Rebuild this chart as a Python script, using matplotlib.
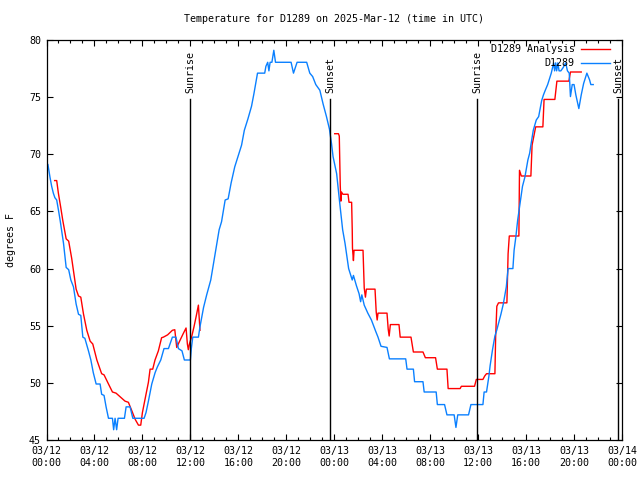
import matplotlib
matplotlib.use("Agg")
import matplotlib.pyplot as plt
import numpy as np

# hours since 2025-03-12 00:00 UTC, temperature in degrees F
obs_hours = [0.12, 0.29, 0.43, 0.57, 0.7, 0.85, 1.0, 1.14, 1.42, 1.64, 1.85, 2.03, 2.25, 2.47,
             2.67, 2.86, 3.03, 3.2, 3.5, 3.7, 3.9, 4.14, 4.47, 4.6, 4.8, 4.97, 5.17, 5.5, 5.6,
             5.72, 5.85, 5.97, 6.5, 6.64, 6.97, 7.2, 8.14, 8.3, 8.5, 8.78, 9.06, 9.25, 9.53,
             9.8, 10.17, 10.5, 10.8, 11.0, 11.3, 11.5, 12.0, 12.08, 12.2, 12.67, 12.8, 13.1,
             13.36, 13.7, 14.05, 14.4, 14.6, 14.9, 15.15, 15.4, 15.7, 16.0, 16.27, 16.5, 16.8,
             17.1, 17.3, 17.6, 18.2, 18.3, 18.45, 18.55, 18.65, 18.8, 18.96, 19.1, 20.4, 20.6,
             20.9, 21.7, 21.96, 22.2, 22.46, 22.8, 23.07, 23.35, 23.6, 23.77, 23.9, 24.2, 24.46,
             24.7, 24.9, 25.2, 25.5, 25.6, 25.85, 26.07, 26.2, 26.3, 26.5, 26.8, 27.1, 27.46,
             27.65, 27.9, 28.4, 28.6, 29.96, 30.07, 30.6, 30.7, 31.4, 31.5, 32.5, 32.6, 33.2,
             33.4, 34.0, 34.15, 34.3, 35.2, 35.4, 36.4, 36.5, 36.7, 36.9, 37.0, 37.2, 37.4,
             37.55, 37.7, 37.9, 38.1, 38.35, 38.5, 38.9, 39.0, 39.15, 39.3, 39.5, 39.7, 39.9,
             40.15, 40.3, 40.4, 40.6, 40.85, 41.05, 41.3, 41.45, 41.6, 41.8, 42.1, 42.3, 42.38,
             42.47, 42.55, 42.65, 42.75, 42.9, 43.1, 43.3, 43.45, 43.6, 43.7, 43.85, 44.0,
             44.15, 44.4, 44.6, 44.8, 45.07, 45.3, 45.4, 45.6]
obs_temps = [69.1, 68.0, 67.2, 66.6, 66.2, 66.0, 65.1, 64.2, 62.2, 60.1, 59.9, 59.0, 58.4, 56.9,
             56.0, 55.9, 54.0, 53.9, 52.8, 52.0, 50.9, 49.9, 49.9, 49.0, 48.9, 47.9, 46.9, 46.9,
             45.9, 46.9, 45.9, 46.9, 46.9, 47.9, 47.9, 46.9, 46.9, 47.4, 48.4, 49.9, 50.9, 51.4,
             52.0, 53.0, 53.0, 54.0, 54.0, 53.0, 52.8, 52.0, 52.0, 53.0, 54.0, 54.0, 54.9, 56.6,
             57.7, 59.0, 61.2, 63.4, 64.1, 66.0, 66.1, 67.5, 68.9, 69.9, 70.8, 72.1, 73.1, 74.2,
             75.3, 77.1, 77.1, 77.7, 78.05, 77.3, 78.05, 78.05, 79.1, 78.05, 78.05, 77.1, 78.05,
             78.05, 77.1, 76.8, 76.1, 75.6, 74.4, 73.3, 72.2, 70.95, 69.8, 68.3, 65.7, 63.4,
             62.2, 60.0, 59.0, 59.4, 58.5, 57.8, 57.1, 57.7, 56.8, 56.1, 55.5, 54.5, 54.0, 53.2,
             53.1, 52.1, 52.1, 51.2, 51.2, 50.1, 50.1, 49.2, 49.2, 48.1, 48.1, 47.2, 47.2, 46.1,
             47.2, 47.2, 48.1, 48.1, 49.2, 49.2, 50.6, 51.5, 52.9, 54.1, 54.6, 55.2, 56.0, 56.9,
             58.4, 60.0, 60.0, 61.6, 62.8, 64.25, 65.7, 67.2, 68.0, 69.5, 70.1, 70.8, 72.1, 73.0,
             73.3, 74.7, 75.2, 75.6, 76.1, 77.1, 78.0, 77.3, 78.0, 77.3, 78.0, 77.3, 77.3, 77.6,
             78.0, 77.3, 77.1, 75.05, 76.1, 76.1, 75.2, 74.0, 75.2, 76.2, 77.1, 76.5, 76.1, 76.1]

ana_hours = [0.68, 0.85, 0.99, 1.18, 1.36, 1.64, 1.85, 2.1, 2.47, 2.67, 2.86, 3.08, 3.36, 3.64,
             3.86, 4.2, 4.6, 4.8, 5.17, 5.5, 5.8, 6.55, 6.83, 7.1, 7.4, 7.67, 7.86, 8.0, 8.3,
             8.5, 8.64, 8.86, 9.05, 9.33, 9.6, 9.75, 10.1, 10.5, 10.7, 10.86, 11.08, 11.4,
             11.64, 11.75, 11.83, 11.92, 12.1, 12.3, 12.5, 12.67, 12.8, 18.0,
             24.04, 24.35, 24.42, 24.5, 24.55, 24.6, 24.72, 25.15, 25.23, 25.45, 25.5, 25.52,
             25.6, 25.65, 26.4, 26.5, 26.6, 26.68, 27.4, 27.5, 27.58, 27.65, 28.4, 28.5, 28.58,
             28.68, 29.4, 29.5, 30.4, 30.6, 31.4, 31.6, 32.45, 32.6, 33.4, 33.5, 34.5, 34.6,
             35.7, 35.85, 36.4, 36.55, 36.7, 37.4, 37.46, 37.56, 37.7, 38.4, 38.5, 38.6, 39.4,
             39.45, 39.6, 40.4, 40.5, 40.8, 41.4, 41.5, 42.4, 42.57, 43.57, 43.7, 44.6]
ana_temps = [67.7, 67.7, 66.6, 65.4, 64.2, 62.6, 62.4, 60.9, 58.2, 57.6, 57.5, 56.05, 54.6, 53.65,
             53.4, 52.0, 50.8, 50.7, 49.9, 49.2, 49.1, 48.4, 48.3, 47.6, 46.8, 46.3, 46.3, 47.4,
             49.0, 50.05, 51.2, 51.2, 52.0, 52.8, 53.95, 54.0, 54.2, 54.6, 54.65, 53.1, 53.6,
             54.3, 54.8, 53.4, 52.9, 53.4, 54.0, 54.9, 55.9, 56.8, 54.6, np.nan,
             71.8, 71.8, 71.6, 67.3, 65.9, 66.7, 66.5, 66.5, 65.8, 65.8, 63.4, 61.8,
             60.7, 61.6, 61.6, 58.3, 57.5, 58.2, 58.2, 56.2, 55.5, 56.1, 56.1, 54.7, 54.1,
             55.1, 55.1, 54.0, 54.0, 52.7, 52.7, 52.2, 52.2, 51.2, 51.2, 49.5, 49.5, 49.7,
             49.7, 50.3, 50.3, 50.6, 50.8, 50.8, 54.0, 56.7, 57.0, 57.0, 61.3, 62.85, 62.85,
             68.6, 68.1, 68.1, 70.8, 72.4, 72.4, 74.8, 74.8, 76.4, 76.4, 77.2, 77.2]

sun_hours = [11.98, 23.65, 35.9, 47.68]
sun_labels = ["Sunrise", "Sunset", "Sunrise", "Sunset"]

tick_hours = list(range(0, 49, 4))
tick_labels = ["03/12\n00:00", "03/12\n04:00", "03/12\n08:00", "03/12\n12:00", "03/12\n16:00",
               "03/12\n20:00", "03/13\n00:00", "03/13\n04:00", "03/13\n08:00", "03/13\n12:00",
               "03/13\n16:00", "03/13\n20:00", "03/14\n00:00"]

plt.rcParams["font.family"] = "DejaVu Sans Mono"
fs = 7.2
red, blue = "#ff0000", "#0a80ff"

fig = plt.figure(figsize=(6.4, 4.8), dpi=100)
ax = fig.add_axes([46.5 / 640, 40 / 480, 575.5 / 640, 400 / 480])

ax.plot(ana_hours, ana_temps, color=red, lw=1.0)
ax.plot(obs_hours, obs_temps, color=blue, lw=1.0)

for h, lab in zip(sun_hours, sun_labels):
    ax.plot([h, h], [45, 74.85], color="black", lw=1.0)
    ax.text(h, 75.4, lab, rotation=90, ha="center", va="bottom", fontsize=fs)

ax.set_xlim(0, 48)
ax.set_ylim(45, 80)
ax.set_xticks(tick_hours)
ax.set_xticklabels(tick_labels, fontsize=fs, linespacing=1.3)
ax.set_xticks(range(0, 49), minor=True)
ax.set_yticks(range(45, 81, 5))
ax.tick_params(axis="y", labelsize=fs)
ax.tick_params(which="both", direction="in", top=True, right=True, width=0.8)
ax.tick_params(which="major", length=4.5, pad=4)
ax.tick_params(which="minor", length=2.5)
for sp in ax.spines.values():
    sp.set_linewidth(0.9)

ax.set_ylabel("degrees F", fontsize=fs, labelpad=9)
ax.set_title("Temperature for D1289 on 2025-Mar-12 (time in UTC)", fontsize=fs, pad=13)

# legend drawn by hand, text right aligned like gnuplot's key
for i, (name, col) in enumerate([("D1289 Analysis", red), ("D1289", blue)]):
    yy = 0.9775 - i * 0.035
    ax.text(0.918, yy, name, transform=ax.transAxes, ha="right", va="center", fontsize=fs)
    ax.plot([0.929, 0.979], [yy, yy], transform=ax.transAxes, color=col, lw=1.0)

fig.savefig("out.png", dpi=100)
